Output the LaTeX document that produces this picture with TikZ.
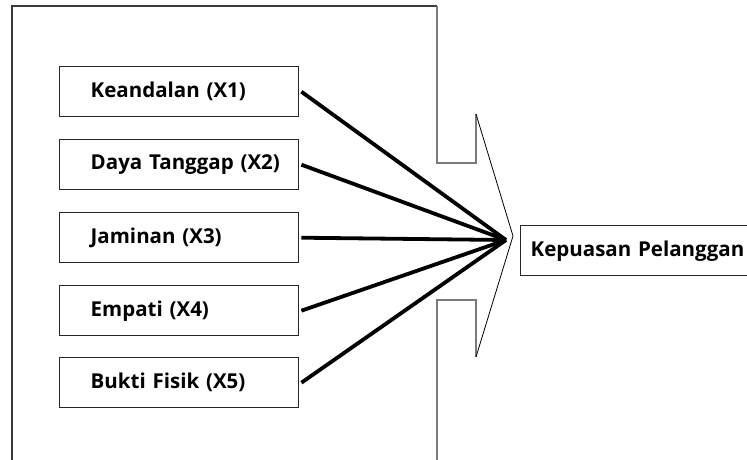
\documentclass[tikz,border=0pt]{standalone}
\usepackage{fontspec}
\setmainfont{Open Sans}
\usetikzlibrary{calc}
\definecolor{framedark}{HTML}{3A3A3A}
\definecolor{framegray}{HTML}{7A7A7A}
\begin{document}
\begin{tikzpicture}[x=1pt,y=-1pt,
  varbox/.style={draw=black!85, line width=1.4pt, minimum height=50pt, inner xsep=0pt, inner ysep=0pt,
    text width=239pt, align=left, font=\fontsize{20.5}{24}\selectfont\bfseries, anchor=north west},
  conn/.style={line width=3.8pt, black},
  framea/.style={draw=framedark, line width=1.6pt},
  frameb/.style={draw=framegray, line width=1.8pt},
  headline/.style={draw=black, line width=0.8pt}
]
\useasboundingbox (0,0) rectangle (747,459);
% block-arrow frame
\coordinate (fA) at (12,470);
\coordinate (fB) at (12,6);
\coordinate (fC) at (437,6);
\coordinate (fD) at (437,163);
\coordinate (fE) at (476,163);
\coordinate (fF) at (476,114);
\coordinate (tip) at (513,236);
\coordinate (fG) at (476,357);
\coordinate (fH) at (476,300);
\coordinate (fI) at (437,300);
\coordinate (fJ) at (437,470);
\draw[framea] (fA) -- (fB) -- (fC);
\draw[frameb] (fC) -- (fD) -- (fE) -- (fF);
\draw[frameb] (fG) -- (fH) -- (fI) -- (fJ);
\draw[headline] (fF) -- (tip) -- (fG);
% variable boxes
\node[varbox] (b1) at (59,66) {\hspace*{31pt}Keandalan (X1)};
\node[varbox] (b2) at (59,139) {\hspace*{31pt}Daya Tanggap (X2)};
\node[varbox] (b3) at (59,212) {\hspace*{31pt}Jaminan (X3)};
\node[varbox] (b4) at (59,285) {\hspace*{31pt}Empati (X4)};
\node[varbox] (b5) at (59,357) {\hspace*{31pt}Bukti Fisik (X5)};
% outcome box
\node[varbox, text width=260pt] (y) at (520,225) {\hspace*{10pt}Kepuasan Pelanggan};
% connectors
\coordinate (m) at (506,240);
\foreach \b in {b1,b2,b3,b4,b5}{
  \draw[conn] ($(\b.east)+(2pt,0)$) -- (m);
}
\end{tikzpicture}
\end{document}
